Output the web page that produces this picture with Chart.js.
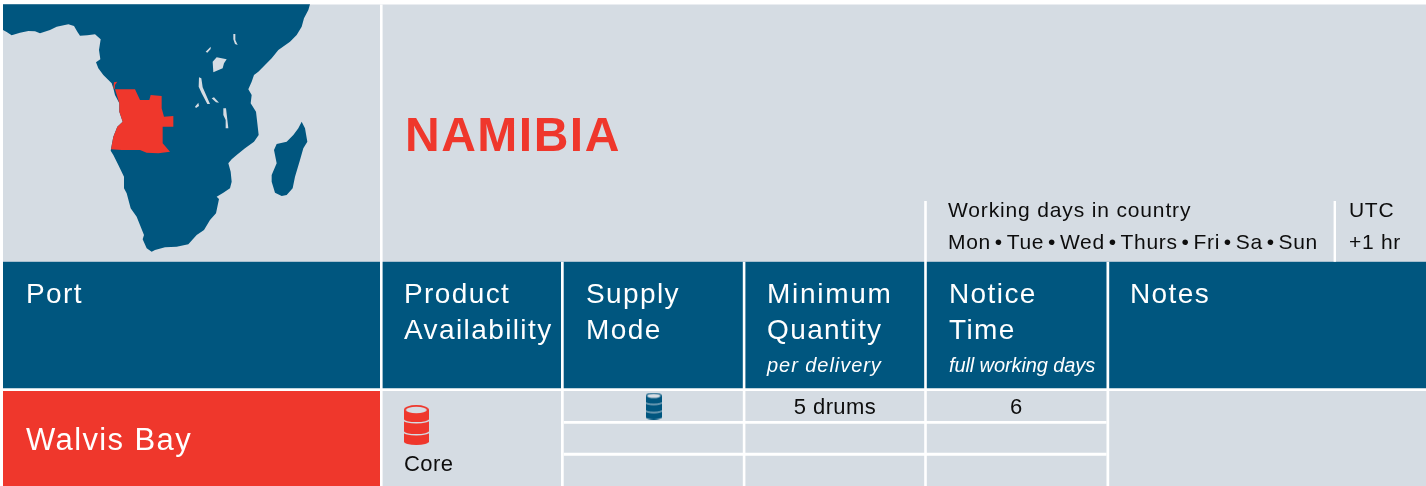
<!DOCTYPE html>
<html>
<head>
<meta charset="utf-8">
<title>Namibia</title>
<script src="https://cdn.jsdelivr.net/npm/chart.js@4"></script>
<style>
  html, body { margin: 0; padding: 0; background: #fff; }
  canvas { display: block; }
</style>
</head>
<body>
<canvas id="sheet" width="1426" height="486"></canvas>
<script>
// outlines at 3x (axes xMap / yMap)
const mainland = [[9,13],[930,13],[925,30],[912,55],[905,80],[890,105],[870,125],[835,150],[815,175],[795,195],[775,215],[762,225],[755,245],[745,268],[755,285],[752,310],[768,335],[772,370],[776,405],[762,425],[735,445],[710,465],[695,478],[685,490],[692,515],[695,545],[690,565],[670,578],[650,590],[657,597],[648,640],[630,660],[612,690],[590,705],[565,733],[530,740],[495,742],[465,750],[455,755],[440,745],[428,718],[432,705],[410,650],[392,625],[380,580],[372,565],[372,530],[355,495],[340,465],[332,452],[340,410],[352,380],[368,365],[358,335],[358,310],[345,285],[340,265],[335,250],[310,225],[295,205],[288,187],[301,178],[297,150],[302,118],[285,103],[262,106],[240,107],[232,95],[222,78],[205,73],[170,80],[150,90],[120,100],[105,94],[85,93],[60,98],[35,106],[20,96],[9,90],[9,13]];
const madagascar = [[905,365],[915,385],[922,425],[910,445],[900,480],[885,530],[878,565],[860,585],[845,588],[825,578],[815,545],[815,525],[830,490],[822,450],[830,432],[860,425],[880,405],[895,385],[905,365]];
const angola = [[345,268],[405,268],[420,300],[448,300],[452,285],[485,288],[485,325],[492,350],[520,348],[520,380],[488,380],[488,430],[510,455],[475,460],[440,458],[420,450],[365,450],[333,448],[340,410],[352,380],[368,365],[358,335],[358,310],[345,268]];
const cabinda = [[340,265],[342,247],[352,245],[345,255],[344,267],[340,265]];
const lakes = [
  [[638,185],[650,172],[680,178],[672,190],[668,205],[640,217],[638,185]],
  [[700,102],[706,102],[706,120],[713,135],[705,132],[700,118],[700,102]],
  [[617,155],[632,140],[632,147],[622,158],[617,155]],
  [[597,232],[604,235],[608,262],[630,312],[622,312],[605,280],[596,260],[597,232]],
  [[670,325],[678,325],[685,385],[675,385],[677,360],[670,345],[670,325]],
  [[585,320],[595,308],[597,318],[588,324],[585,320]],
  [[635,295],[642,292],[657,308],[648,307],[635,295]]
];

// table grid, pixels
const sheetEdges = [3, 1426];
const topEdges = [4.4, 261.8, 388.6, 391, 486];
const columnRules = [[380, 382.6], [561, 563.7], [742.8, 745.4], [924.2, 926.8], [1106.5, 1109.2]];
const upperRules = [[1333.6, 1336]];
const rowRules = [[421, 423.7], [452.7, 455.7]];
const upperRuleTop = 201;

const title = 'NAMIBIA';
const headers = ['Port', 'Product', 'Availability', 'Supply', 'Mode', 'Minimum', 'Quantity', 'Notice', 'Time', 'Notes'];
const headerNotes = ['per delivery', 'full working days'];
const workingDays = ['Working days in country', 'Mon • Tue • Wed • Thurs • Fri • Sa • Sun'];
const utc = ['UTC', '+1 hr'];
const port = 'Walvis Bay';
const product = 'Core';
const quantity = '5 drums';
const notice = '6';

const BLUE = '#00567f', GREY = '#d5dce3', RED = '#ef372c', WHITE = '#ffffff', INK = '#0d0d0d';

function rect(x0, x1, y0, y1, color) {
  return shape([[x0, y0], [x1, y0], [x1, y1], [x0, y1], [x0, y0]], color, 'x', 'y');
}
function shape(points, color, xAxisID, yAxisID) {
  return {
    data: points.map(p => ({ x: p[0], y: p[1] })),
    xAxisID: xAxisID || 'xMap', yAxisID: yAxisID || 'yMap',
    showLine: true, fill: 'shape', tension: 0,
    backgroundColor: color, borderColor: color, borderWidth: 0, pointRadius: 0
  };
}

function barrelIcon(color, w, h) {
  const c = document.createElement('canvas');
  c.width = w; c.height = h;
  const g = c.getContext('2d');
  g.scale(w / 24, h / 40);
  g.fillStyle = color;
  g.beginPath();
  g.ellipse(12, 5, 12, 5, 0, Math.PI, 0);
  g.lineTo(24, 36.5);
  g.ellipse(12, 36.5, 12, 3.5, 0, 0, Math.PI);
  g.closePath();
  g.fill();
  // lid and hoops
  g.fillStyle = GREY;
  g.beginPath();
  g.ellipse(12, 5, 10, 3.3, 0, 0, Math.PI * 2);
  g.fill();
  g.strokeStyle = GREY;
  g.lineWidth = 1.4;
  [14.5, 26.5].forEach(y => {
    g.beginPath();
    g.ellipse(12, y, 12.5, 3.3, 0, Math.PI, 0, true);
    g.stroke();
  });
  return c;
}

const barrelPoints = [{ x: 416.3, y: 425 }, { x: 653.7, y: 406 }];
const barrelStyles = [barrelIcon(RED, 25, 40), barrelIcon(BLUE, 16, 27)];

// painted bottom first, reversed below because Chart.js draws dataset 0 last
const layers = [
  rect(sheetEdges[0], sheetEdges[1], topEdges[0], topEdges[1], GREY),
  rect(sheetEdges[0], sheetEdges[1], topEdges[1], topEdges[2], BLUE),
  rect(sheetEdges[0], sheetEdges[1], topEdges[3], topEdges[4], GREY),
  rect(sheetEdges[0], columnRules[0][0], topEdges[3], topEdges[4], RED),
  shape(mainland, BLUE),
  shape(madagascar, BLUE),
  ...lakes.map(l => shape(l, GREY)),
  shape(angola, RED),
  shape(cabinda, RED),
  rect(sheetEdges[0], sheetEdges[1], topEdges[2], topEdges[3], WHITE),
  rect(columnRules[0][0], columnRules[0][1], topEdges[0], topEdges[4], WHITE),
  ...columnRules.slice(1, 3).concat(columnRules.slice(4)).map(r => rect(r[0], r[1], topEdges[1], topEdges[4], WHITE)),
  rect(columnRules[3][0], columnRules[3][1], upperRuleTop, topEdges[4], WHITE),
  ...upperRules.map(r => rect(r[0], r[1], upperRuleTop, topEdges[1], WHITE)),
  ...rowRules.map(r => rect(columnRules[1][1], columnRules[4][0], r[0], r[1], WHITE)),
  {
    data: barrelPoints, xAxisID: 'x', yAxisID: 'y', showLine: false,
    pointStyle: barrelStyles, pointRadius: 20, pointBorderWidth: 0
  }
];

const FONT = '"Liberation Sans", Arial, sans-serif';
const textRuns = [
  { t: title, x: 405, y: 151, size: 48, weight: 'bold', color: RED, spacing: 1.5 },
  { t: headers[0], x: 26, y: 302.5, size: 28, color: WHITE, spacing: 1.4 },
  { t: headers[1], x: 404, y: 302.5, size: 28, color: WHITE, spacing: 1.4 },
  { t: headers[2], x: 404, y: 338.5, size: 28, color: WHITE, spacing: 1.4 },
  { t: headers[3], x: 586, y: 302.5, size: 28, color: WHITE, spacing: 1.4 },
  { t: headers[4], x: 586, y: 338.5, size: 28, color: WHITE, spacing: 1.4 },
  { t: headers[5], x: 767, y: 302.5, size: 28, color: WHITE, spacing: 1.7 },
  { t: headers[6], x: 767, y: 338.5, size: 28, color: WHITE, spacing: 1.4 },
  { t: headers[7], x: 949, y: 302.5, size: 28, color: WHITE, spacing: 1.4 },
  { t: headers[8], x: 949, y: 338.5, size: 28, color: WHITE, spacing: 1.4 },
  { t: headers[9], x: 1130, y: 302.5, size: 28, color: WHITE, spacing: 1.4 },
  { t: headerNotes[0], x: 767, y: 371.7, size: 20, style: 'italic', color: WHITE, spacing: 0.95 },
  { t: headerNotes[1], x: 949, y: 371.7, size: 20, style: 'italic', color: WHITE, spacing: -0.1 },
  { t: workingDays[0], x: 948, y: 217, size: 21, color: INK, spacing: 0.85 },
  { t: workingDays[1], x: 948, y: 249, size: 21, color: INK, spacing: 0.7, words: -2.7 },
  { t: utc[0], x: 1349, y: 217, size: 21, color: INK, spacing: 0.7 },
  { t: utc[1], x: 1349, y: 249, size: 21, color: INK, spacing: 0.7 },
  { t: port, x: 26, y: 450, size: 31, color: WHITE, spacing: 1.4 },
  { t: product, x: 404, y: 471, size: 22, color: INK, spacing: 0.4 },
  { t: quantity, x: 835, y: 414, size: 22, color: INK, spacing: 0.4, align: 'center' },
  { t: notice, x: 1016, y: 414, size: 22, color: INK, spacing: 0, align: 'center' }
];

const sheetText = {
  id: 'sheetText',
  afterDatasetsDraw(chart) {
    const { ctx, scales } = chart;
    ctx.save();
    ctx.textBaseline = 'alphabetic';
    textRuns.forEach(r => {
      ctx.font = `${r.style || 'normal'} ${r.weight || 'normal'} ${r.size}px ${FONT}`;
      ctx.letterSpacing = (r.spacing || 0) + 'px';
      ctx.wordSpacing = (r.words || 0) + 'px';
      ctx.textAlign = r.align || 'left';
      ctx.fillStyle = r.color;
      ctx.fillText(r.t, scales.x.getPixelForValue(r.x), scales.y.getPixelForValue(r.y));
    });
    ctx.restore();
  }
};

const hidden = (min, max, reverse) => ({ type: 'linear', display: false, min, max, reverse: !!reverse });

new Chart(document.getElementById('sheet'), {
  type: 'scatter',
  data: { datasets: layers.reverse() },
  options: {
    responsive: false,
    animation: false,
    layout: { padding: 0, autoPadding: false },
    plugins: { legend: { display: false }, tooltip: { enabled: false }, filler: { propagate: false } },
    scales: {
      x: hidden(0, 1426), y: hidden(0, 486, true),
      xMap: hidden(0, 4278), yMap: hidden(0, 1458, true)
    }
  },
  plugins: [sheetText]
});
</script>
</body>
</html>
